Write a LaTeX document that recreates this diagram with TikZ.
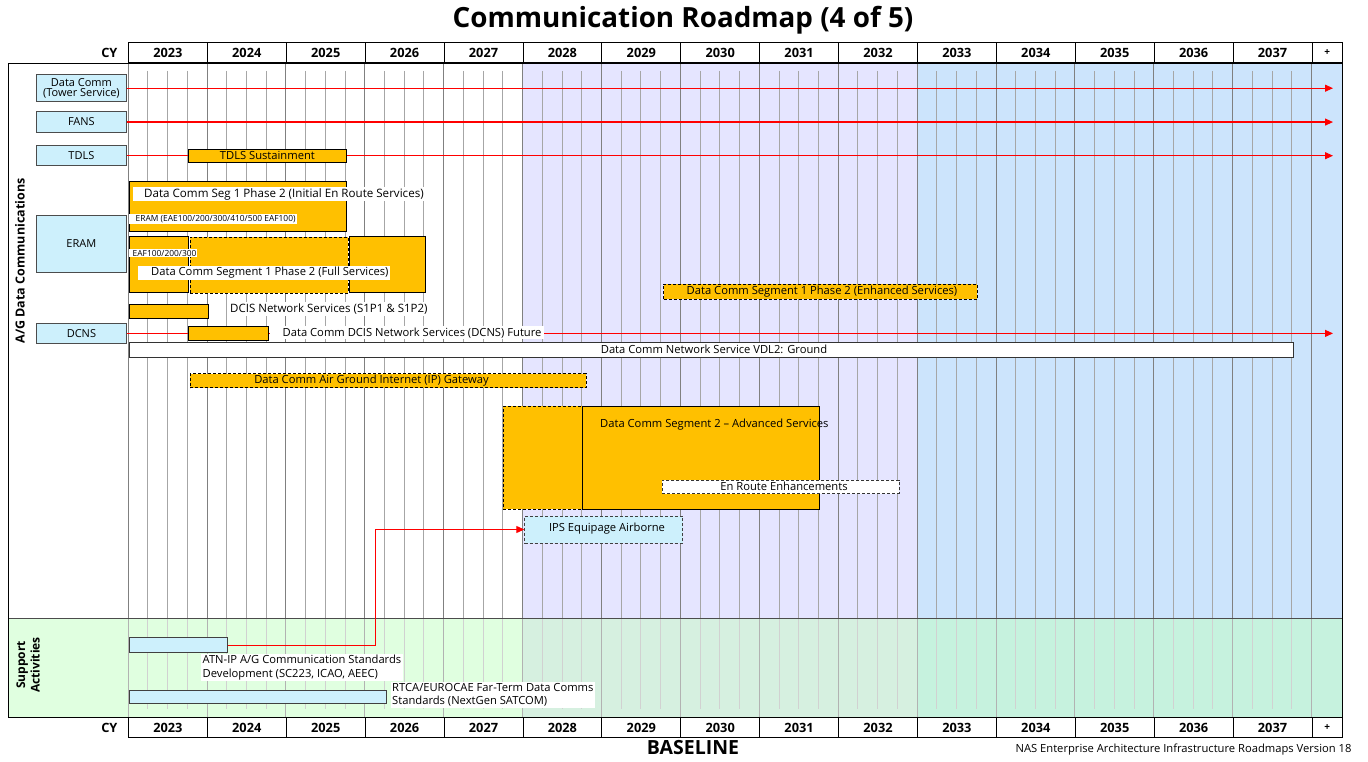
\documentclass[tikz,border=0pt]{standalone}
\usepackage{fontspec}
\setmainfont{Open Sans}
\usetikzlibrary{arrows.meta}
\definecolor{orng}{RGB}{255,192,0}
\definecolor{lblue}{RGB}{205,240,252}
\definecolor{lav}{RGB}{229,229,255}
\definecolor{skyb}{RGB}{204,228,252}
\definecolor{sgL}{RGB}{224,255,224}
\definecolor{sgM}{RGB}{214,240,224}
\definecolor{sgR}{RGB}{198,242,222}
\newcommand\gb[6]{\node[#6, minimum width={#4-#2}, minimum height={#5-#3}] (#1) at (#2,#3) {};}
\begin{document}
\begin{tikzpicture}[x=1pt,y=-1pt,
  yr/.style={draw=black, line width=0.9pt, font=\bfseries\fontsize{12.8}{13}\selectfont, anchor=north west, minimum height=20pt, inner sep=0pt},
  side/.style={draw=black!70, fill=lblue, line width=0.8pt, align=center, inner sep=0pt, anchor=north west},
  stxt/.style={font=\fontsize{11}{10.5}\selectfont, align=center, inner sep=0pt},
  obar/.style={draw=black, fill=orng, line width=0.8pt, inner sep=0pt, anchor=north west},
  dbar/.style={obar, dash pattern=on 3pt off 2pt},
  wbar/.style={obar, fill=white, draw=black!80},
  dwbar/.style={wbar, dash pattern=on 3pt off 2pt},
  lbar/.style={obar, fill=lblue, draw=black!75},
  dlbar/.style={lbar, dash pattern=on 3pt off 2pt},
  wlab/.style={fill=white, inner sep=1.5pt, font=\fontsize{11.2}{13.3}\selectfont},
  btxt/.style={inner sep=0pt, font=\fontsize{11.2}{13.3}\selectfont},
  tinylab/.style={fill=white, inner sep=1pt, font=\fontsize{8.4}{9}\selectfont},
  rarr/.style={draw=red, line width=1.1pt, -{Triangle[length=8pt,width=7pt]}},
  yline/.style={draw=black!50, line width=0.8pt},
  qline/.style={draw=black!35, line width=0.8pt},
  ylineS/.style={draw=black!30, line width=0.8pt},
  qlineS/.style={draw=black!18, line width=0.8pt},
]
\useasboundingbox (0,0) rectangle (1368,762);
% backgrounds
\fill[white] (8,64) rectangle (522.5,618);
\fill[lav] (522.5,64) rectangle (917,618);
\fill[skyb] (917,64) rectangle (1342,618);
\fill[sgL] (8,618) rectangle (522.5,717);
\fill[sgM] (522.5,618) rectangle (917,717);
\fill[sgR] (917,618) rectangle (1342,717);
% grid
\foreach \i in {0,...,15} {
  \pgfmathsetmacro\xx{128+78.9*\i}
  \draw[yline] (\xx,64) -- (\xx,618);
  \draw[ylineS] (\xx,618) -- (\xx,717);
}
\foreach \i in {0,...,14} {
  \foreach \q in {1,2,3} {
    \pgfmathsetmacro\xx{128+78.9*\i+19.725*\q}
    \draw[qline] (\xx,71) -- (\xx,618);
    \draw[qlineS] (\xx,618) -- (\xx,709);
  }
}
\draw[black!70, line width=0.9pt] (8,618) -- (1342,618);
\draw[black, line width=1pt] (8,64) rectangle (1342,717);
% headers
\foreach \i in {0,...,14} {
  \pgfmathsetmacro\xx{128+78.9*\i}
  \pgfmathtruncatemacro\yy{2023+\i}
  \node[yr, minimum width=78.9] (top\i) at (\xx,42) {\yy};
  \node[yr, minimum width=78.9] (bot\i) at (\xx,717) {\yy};
}
\node[yr, minimum width=30.5, font=\bfseries\fontsize{10}{10}\selectfont] (topplus) at (1311.5,42) {+};
\node[yr, minimum width=30.5, font=\bfseries\fontsize{10}{10}\selectfont] (botplus) at (1311.5,717) {+};
\node[font=\bfseries\fontsize{12.8}{13}\selectfont, anchor=east] (cytop) at (121,52.5) {CY};
\node[font=\bfseries\fontsize{12.8}{13}\selectfont, anchor=east] (cybot) at (121,727.5) {CY};
\node[font=\bfseries\fontsize{27.8}{30}\selectfont] (title) at (683,20) {Communication Roadmap (4 of 5)};
\node[font=\bfseries\fontsize{19.5}{22}\selectfont] (base) at (693,748) {BASELINE};
\node[font=\fontsize{11.2}{12}\selectfont, anchor=east] (foot) at (1355,750) {NAS Enterprise Architecture Infrastructure Roadmaps Version 18};
% section labels
\node[font=\bfseries\fontsize{12.5}{13}\selectfont, rotate=90] (agdc) at (20,261) {A/G Data Communications};
\node[font=\bfseries\fontsize{12}{14.5}\selectfont, rotate=90, align=center] (supp) at (28,665) {Support\\Activities};
% side labels
\gb{tower}{36}{74.3}{126}{101.3}{side}
\node[stxt] (towerl) at (tower.center) {Data Comm\\(Tower Service)};
\gb{fans}{36}{111.3}{126}{132}{side}
\node[stxt] (fansl) at (fans.center) {FANS};
\gb{tdls}{36}{145.3}{126}{165.3}{side}
\node[stxt] (tdlsl) at (tdls.center) {TDLS};
\gb{eram}{36}{214.7}{126}{272.3}{side}
\node[stxt] (eraml) at (eram.center) {ERAM};
\gb{dcns}{36}{322.7}{126}{343.3}{side}
\node[stxt] (dcnsl) at (dcns.center) {DCNS};
% red arrows
\coordinate (xend) at (1333,0);
\draw[rarr] (tower.east) -- (tower.east -| xend);
\draw[rarr] (fans.east) -- (fans.east -| xend);
\draw[rarr] (tdls.east) -- (tdls.east -| xend);
\draw[rarr] (dcns.east) -- (dcns.east -| xend);
% TDLS
\gb{tdlss}{188.3}{149}{345.7}{162}{obar}
\node[btxt] (tdlsst) at (tdlss.center) {TDLS Sustainment};
% Seg 1 initial
\gb{s1i}{128.7}{181}{345.7}{230.7}{obar}
\node[wlab, anchor=west, inner xsep=0pt, font=\fontsize{11.6}{13.3}\selectfont] (s1il) at (133,194) {\hspace*{11pt}Data Comm Seg 1 Phase 2 (Initial En Route Services)\hspace*{2pt}};
\node[tinylab, anchor=west, inner xsep=0pt] (eramt) at (128.5,219) {\hspace*{7pt}ERAM (EAE100/200/300/410/500 EAF100)\hspace*{1pt}};
% full services
\gb{fsA}{128.7}{235.7}{188.3}{291.7}{obar}
\gb{fsB}{189.7}{236.7}{347.7}{292.7}{dbar}
\gb{fsC}{348.7}{236}{425.3}{291.7}{obar}
\node[tinylab, anchor=west, inner xsep=0pt] (eaft) at (128.5,253) {\hspace*{4pt}EAF100/200/300\hspace*{1pt}};
\node[wlab, anchor=west, inner xsep=0pt] (fsl) at (138,273) {\hspace*{13pt}Data Comm Segment 1 Phase 2 (Full Services)\hspace*{1pt}};
% DCIS
\gb{dcis}{128.7}{304.3}{208.3}{317.7}{obar}
\node[wlab, anchor=west, font=\fontsize{11.5}{13.3}\selectfont] (dcisl) at (228.5,309) {DCIS Network Services (S1P1 \& S1P2)};
% DCNS future
\gb{dcnso}{188.3}{326.3}{267.7}{339.7}{obar}
\node[wlab, anchor=west, inner xsep=0pt] (dcnsf) at (269.5,332.7) {\hspace*{13pt}Data Comm DCIS Network Services (DCNS) Future\hspace*{3pt}};
% VDL2
\gb{vdl}{128.7}{341.7}{1292.7}{356.7}{wbar}
\node[btxt] (vdlt) at (714,349.2) {Data Comm Network Service VDL2: Ground};
% enhanced
\gb{s1e}{663.3}{283.7}{977}{299}{dbar}
\node[btxt] (s1et) at (822,291.3) {Data Comm Segment 1 Phase 2 (Enhanced Services)};
% gateway
\gb{gw}{189.7}{373.3}{585.7}{387.3}{dbar}
\node[btxt] (gwt) at (371.5,380.3) {Data Comm Air Ground Internet (IP) Gateway};
% seg 2
\gb{s2d}{502.7}{405.7}{582.3}{509}{dbar}
\gb{s2s}{582.3}{405.7}{819.3}{509}{obar}
\node[btxt, anchor=west] (s2t) at (600,425) {Data Comm Segment 2 -- Advanced Services};
\gb{ere}{662}{479.7}{898.7}{493.3}{dwbar}
\node[btxt] (eret) at (784,486.5) {En Route Enhancements};
% IPS
\gb{ips}{524.3}{515.5}{682.3}{542.7}{dlbar}
\node[btxt] (ipst) at (607,529) {IPS Equipage Airborne};
% support
\gb{atn}{128.7}{637.3}{227.3}{652.3}{lbar}
\node[wlab, anchor=north west, align=left] (atnt) at (201,653.5) {ATN-IP A/G Communication Standards\\Development (SC223, ICAO, AEEC)};
\gb{rtca}{128.7}{690}{386.3}{703.3}{lbar}
\node[wlab, anchor=north west, align=left] (rtcat) at (390.5,681.5) {RTCA/EUROCAE Far-Term Data Comms\\Standards (NextGen SATCOM)};
\coordinate (bend) at (375.7,529);
\draw[rarr] (atn.east) -| (bend |- ips.west) -- (ips.west);
\end{tikzpicture}
\end{document}
